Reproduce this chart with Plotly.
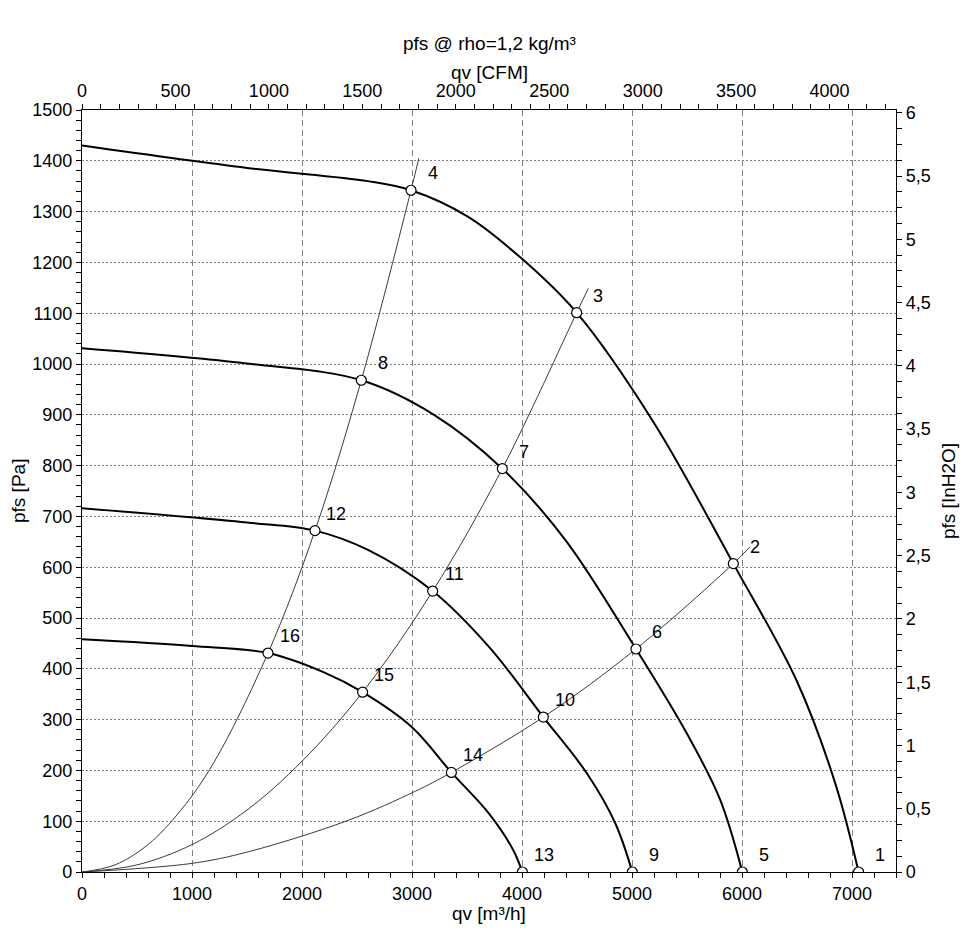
import plotly.graph_objects as go

# ---------------- data ----------------
# fan characteristic curves: qv [m3/h] vs pfs [Pa]
fan1_q = [0, 1500, 2600, 2991, 3500, 4000, 4497, 5200, 5921, 6500, 6850, 7060]
fan1_p = [1430, 1386, 1360, 1342, 1291, 1207, 1101, 884, 607, 375, 173, 0]

fan2_q = [0, 1500, 2539, 3200, 3821, 4400, 5036, 5500, 5800, 6003]
fan2_p = [1031, 1001, 968, 900, 794, 652, 439, 272, 143, 0]

fan3_q = [0, 1500, 2118, 2600, 3188, 3700, 4194, 4600, 4850, 5003]
fan3_p = [716, 688, 672, 634, 553, 443, 305, 191, 95, 0]

fan4_q = [0, 1000, 1691, 2200, 2551, 3000, 3358, 3700, 3921, 4003]
fan4_p = [458, 445, 431, 393, 354, 285, 196, 115, 43, 0]

# system (resistance) curves
sysA_q = [0, 300, 600, 900, 1200, 1691, 2118, 2539, 2991, 3062]
sysA_p = [0, 14, 54, 122, 216, 431, 672, 968, 1342, 1405]

sysB_q = [0, 500, 1000, 1500, 2000, 2551, 3188, 3821, 4497, 4603]
sysB_p = [0, 14, 54, 122, 218, 354, 553, 794, 1101, 1149]

sysC_q = [0, 1000, 1515, 2424, 3030, 3358, 4194, 5036, 5921, 6073]
sysC_p = [0, 17, 40, 102, 159, 196, 305, 439, 607, 640]

# numbered operating points
pt_num = ["1", "2", "3", "4", "5", "6", "7", "8", "9", "10", "11", "12", "13", "14", "15", "16"]
pt_q = [7060, 5921, 4497, 2991, 6003, 5036, 3821, 2539, 5003, 4194, 3188, 2118, 4003, 3358, 2551, 1691]
pt_p = [0, 607, 1101, 1342, 0, 439, 794, 968, 0, 305, 553, 672, 0, 196, 354, 431]

# axes
x_max = 7400          # m3/h
y_max = 1500          # Pa
cfm_per_m3h = 0.588578
pa_per_inh2o = 249.089
inh2o_vals = [0, 0.5, 1, 1.5, 2, 2.5, 3, 3.5, 4, 4.5, 5, 5.5, 6]
inh2o_text = ["0", "0,5", "1", "1,5", "2", "2,5", "3", "3,5", "4", "4,5", "5", "5,5", "6"]

title_top = "pfs @ rho=1,2 kg/m³"
title_x = "qv [m³/h]"
title_x2 = "qv [CFM]"
title_y = "pfs [Pa]"
title_y2 = "pfs [InH2O]"

# ---------------- figure ----------------
FONT = "Liberation Sans, Arial, sans-serif"
FS = 18
FT = 19

fig = go.Figure()

for q, p in [(sysA_q, sysA_p), (sysB_q, sysB_p), (sysC_q, sysC_p)]:
    fig.add_trace(go.Scatter(x=q, y=p, mode="lines",
                             line=dict(color="#3a3a3a", width=1, shape="spline", smoothing=1.0),
                             hoverinfo="skip", showlegend=False))

for q, p in [(fan1_q, fan1_p), (fan2_q, fan2_p), (fan3_q, fan3_p), (fan4_q, fan4_p)]:
    fig.add_trace(go.Scatter(x=q, y=p, mode="lines",
                             line=dict(color="black", width=2, shape="spline", smoothing=1.0),
                             hoverinfo="skip", showlegend=False))

fig.add_trace(go.Scatter(x=pt_q, y=pt_p, mode="markers",
                         marker=dict(size=10, color="white", line=dict(color="black", width=1.2)),
                         showlegend=False))

# dummy trace to activate top/right axes
fig.add_trace(go.Scatter(x=[None], y=[None], xaxis="x2", yaxis="y2",
                         mode="markers", showlegend=False, hoverinfo="skip"))

for n, q, p in zip(pt_num, pt_q, pt_p):
    fig.add_annotation(x=q, y=p, text=n, showarrow=False, xanchor="center", yanchor="middle",
                       xshift=21.5, yshift=17, font=dict(size=FS, color="black", family=FONT))

common_ax = dict(showline=True, linecolor="black", linewidth=1.3, ticks="outside",
                 ticklen=5, tickcolor="black", tickfont=dict(size=FS, color="black", family=FONT),
                 zeroline=False, fixedrange=True)

fig.update_layout(
    width=968, height=948,
    margin=dict(l=82, r=72, t=110, b=76),
    paper_bgcolor="white", plot_bgcolor="white",
    font=dict(family=FONT, size=FS, color="black"),
    xaxis=dict(range=[0, x_max], dtick=1000, tick0=0, showgrid=True, gridcolor="#808080",
               gridwidth=1, griddash="6px,4px",
               minor=dict(dtick=200, ticks="outside", ticklen=5, tickcolor="black", showgrid=False),
               **common_ax),
    xaxis2=dict(range=[0, x_max * cfm_per_m3h], dtick=500, tick0=0, overlaying="x", side="top",
                anchor="y", showgrid=False,
                minor=dict(dtick=100, ticks="outside", ticklen=5, tickcolor="black", showgrid=False),
                **common_ax),
    yaxis=dict(range=[0, y_max], dtick=100, tick0=0, showgrid=True, gridcolor="#808080",
               gridwidth=1, griddash="2px,2px",
               minor=dict(dtick=20, ticks="outside", ticklen=5, tickcolor="black", showgrid=False),
               **common_ax),
    yaxis2=dict(range=[0, y_max / pa_per_inh2o], overlaying="y", side="right", anchor="x",
                tickmode="array", tickvals=inh2o_vals, ticktext=inh2o_text, showgrid=False,
                minor=dict(dtick=0.125, tick0=0, ticks="outside", ticklen=5, tickcolor="black", showgrid=False),
                **common_ax),
)

def ann(text, x, y, angle=0):
    fig.add_annotation(text=text, xref="paper", yref="paper", x=x, y=y, showarrow=False,
                       xanchor="center", yanchor="middle", textangle=angle,
                       font=dict(size=FT, color="black", family=FONT))

ann(title_top, 0.5, (872 - 44) / 762)
ann(title_x2, 0.5, (872 - 72) / 762)
ann(title_x, 0.5, (872 - 913) / 762)
ann(title_y, (18 - 82) / 814, 0.5, -90)
ann(title_y2, (948 - 82) / 814, 0.5, -90)

fig.write_html("out.html", config={"displayModeBar": False},
               post_script="document.body.style.margin='0';document.body.style.overflow='hidden';")
